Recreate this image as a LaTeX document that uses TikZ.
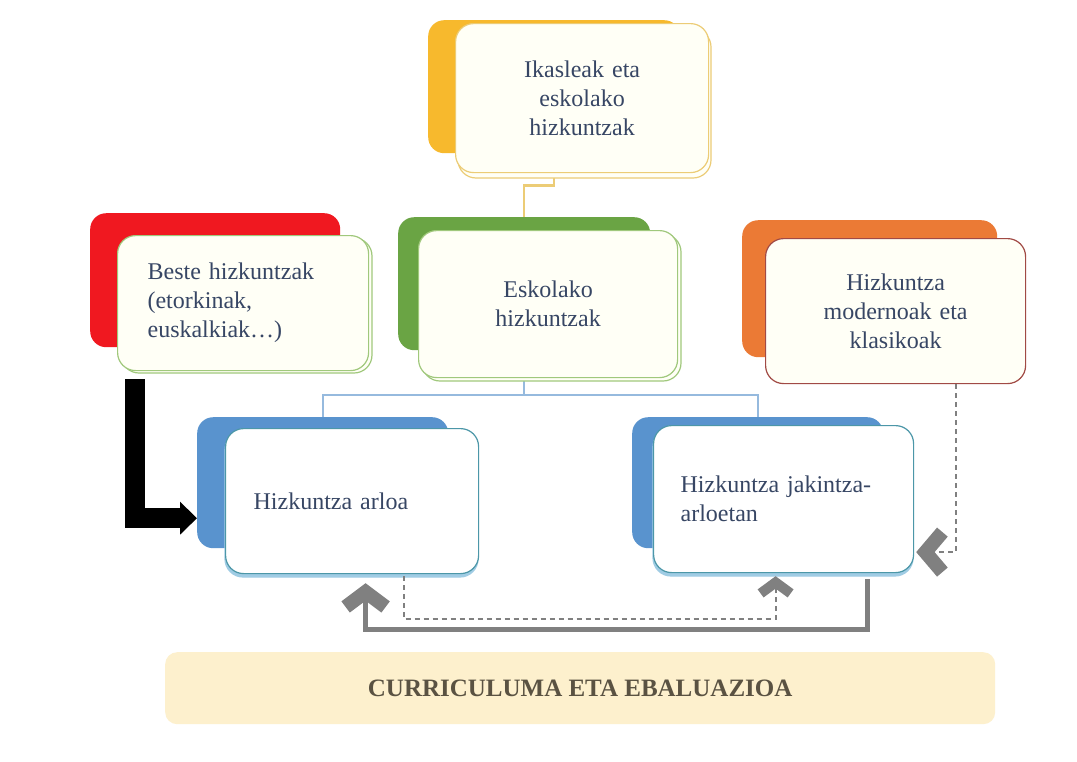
\documentclass[tikz,border=0pt]{standalone}
\usepackage{fontspec}
\setmainfont{Liberation Serif}
\usetikzlibrary{arrows.meta,calc}
\definecolor{txt}{RGB}{55,70,100}
\definecolor{yback}{RGB}{247,185,45}
\definecolor{yborder}{RGB}{236,204,118}
\definecolor{rback}{RGB}{240,24,32}
\definecolor{gback}{RGB}{106,164,68}
\definecolor{gborder}{RGB}{160,200,124}
\definecolor{oback}{RGB}{235,122,53}
\definecolor{oborder}{RGB}{161,74,69}
\definecolor{bback}{RGB}{89,147,206}
\definecolor{bborder}{RGB}{76,151,168}
\definecolor{bghost}{RGB}{160,204,228}
\definecolor{cream}{RGB}{255,255,246}
\definecolor{conngray}{RGB}{128,128,128}
\definecolor{bconncol}{RGB}{150,186,222}
\definecolor{currfill}{RGB}{253,240,205}
\definecolor{currtxt}{RGB}{90,82,66}
\begin{document}
\begin{tikzpicture}[x=1pt,y=-1pt,
  backbox/.style={rounded corners=16pt, draw=none, anchor=north west, inner sep=0pt},
  frontbox/.style={rounded corners=18pt, line width=1.2pt, fill=cream, anchor=north west,
     inner xsep=0pt, inner ysep=0pt, text=txt, font=\fontsize{24}{29}\selectfont},
  ghostline/.style={rounded corners=18pt, line width=1.2pt},
  bconn/.style={draw=bconncol, line width=2pt},
  yconn/.style={draw=yborder, line width=2.4pt},
  grayconn/.style={draw=conngray, line width=5pt, line join=miter,
     -{Straight Barb[length=15pt,width=40pt,line width=14pt,line join=miter]}},
  dashconn/.style={draw=conngray, line width=2pt, dash pattern=on 5pt off 4pt},
  smallchev/.style={-{Straight Barb[length=11pt,width=30pt,line width=10pt,line join=miter]}},
  sidechev/.style={-{Straight Barb[length=17pt,width=40pt,line width=14pt,line join=miter]}},
  blackarrow/.style={draw=black, line width=20pt, line join=miter,
     -{Triangle[length=17pt,width=32pt]}}
]
\useasboundingbox[fill=white] (0,0) rectangle (1077,761);

% back boxes
\node[backbox, fill=yback, minimum width=252pt, minimum height=133pt] (ikasB) at (428,20) {};
\node[backbox, fill=rback, minimum width=250pt, minimum height=134pt] (besteB) at (90,213) {};
\node[backbox, fill=gback, minimum width=252pt, minimum height=133pt] (eskB) at (398,217) {};
\node[backbox, fill=oback, minimum width=255pt, minimum height=137pt] (modB) at (742,220) {};
\node[backbox, fill=bback, minimum width=251pt, minimum height=131pt] (arloaB) at (197,417) {};
\node[backbox, fill=bback, minimum width=251pt, minimum height=131pt] (jakB) at (632,417) {};

% hidden-start connectors
\draw[yconn] (ikasB.south) -- ++(0,32) -| (eskB.north);
\draw[bconn] (eskB.south) -- ++(0,45) coordinate (bj) -| (arloaB.north);
\draw[bconn] (bj) -| (jakB.north);

% ghost outlines
\draw[ghostline, draw=yborder, fill=cream] (458,29) rectangle (711,178);
\draw[ghostline, draw=gborder, fill=cream] (121,238) rectangle (372,373);
\draw[ghostline, draw=gborder, fill=cream] (422,234) rectangle (681,381);
\draw[ghostline, draw=bghost, fill=bghost] (225,432) rectangle (478,577);
\draw[ghostline, draw=bghost, fill=bghost] (653,429) rectangle (913,576);

% front boxes
\node[frontbox, draw=yborder, minimum width=253pt, minimum height=149pt, text width=253pt, align=center]
  (ikasF) at (455,23) {Ikasleak eta\\eskolako\\hizkuntzak};
\node[frontbox, draw=gborder, minimum width=251pt, minimum height=135pt, text width=191pt, align=left]
  (besteF) at (117,235) {Beste hizkuntzak\\(etorkinak,\\euskalkiak\dots)};
\node[frontbox, draw=gborder, minimum width=259pt, minimum height=147pt, text width=259pt, align=center]
  (eskF) at (418,230) {Eskolako\\hizkuntzak};
\node[frontbox, draw=oborder, minimum width=260pt, minimum height=145pt, text width=260pt, align=center]
  (modF) at (765,238) {Hizkuntza\\modernoak eta\\klasikoak};
\node[frontbox, draw=bborder, fill=white, minimum width=253pt, minimum height=145pt, text width=197pt, align=left]
  (arloaF) at (225,428) {Hizkuntza arloa};
\node[frontbox, draw=bborder, fill=white, minimum width=260pt, minimum height=147pt, text width=206pt, align=left]
  (jakF) at (653,425) {Hizkuntza jakintza-\\arloetan};

% bottom box
\node[backbox, fill=currfill, rounded corners=12pt, minimum width=830pt, minimum height=72pt,
  text=currtxt, font=\bfseries\fontsize{25}{30}\selectfont] (curr) at (165,652) {CURRICULUMA ETA EBALUAZIOA};

% connectors
\draw[blackarrow] ([xshift=18pt,yshift=-8pt]besteF.south west) |- ([yshift=-35.5pt]arloaB.west);
\draw[grayconn] ([xshift=84pt,yshift=-6pt]jakF.south) -- ++(0,50) -| ([xshift=13.5pt,yshift=-9pt]arloaF.south);
\draw[dashconn, smallchev] ([xshift=51.5pt,yshift=-2pt]arloaF.south) -- ++(0,43) -| ([xshift=-8pt,yshift=-3pt]jakF.south);
\draw[dashconn, sidechev] ([xshift=60pt]modF.south) |- ([xshift=2pt,yshift=-53pt]jakF.east);
\end{tikzpicture}
\end{document}
